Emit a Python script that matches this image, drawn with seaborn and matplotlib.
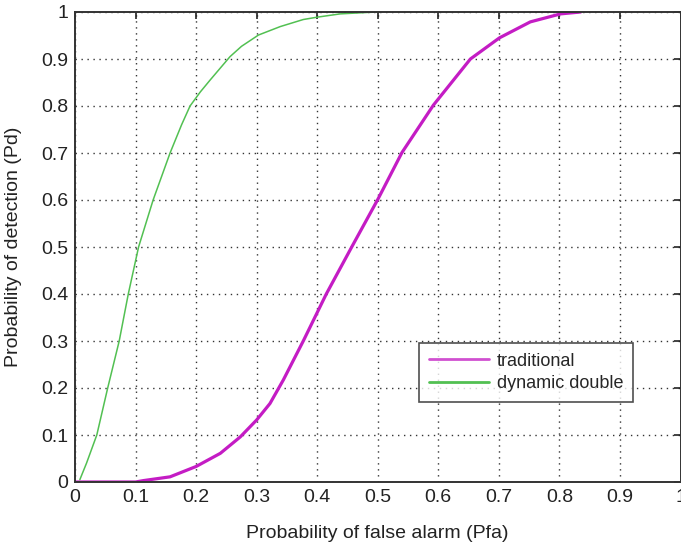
import matplotlib
matplotlib.use("Agg")
import matplotlib.pyplot as plt
import numpy as np
import pandas as pd
import seaborn as sns

# ROC curves: probability of detection vs probability of false alarm
trad_pfa = [0.0, 0.1, 0.113, 0.157, 0.2, 0.24, 0.273, 0.3, 0.322, 0.344, 0.377,
            0.415, 0.457, 0.5, 0.54, 0.592, 0.653, 0.701, 0.752, 0.802, 0.835]
trad_pd = [0.0, 0.0, 0.003, 0.011, 0.033, 0.061, 0.096, 0.132, 0.167, 0.217, 0.3,
           0.4, 0.5, 0.601, 0.701, 0.802, 0.9, 0.945, 0.979, 0.996, 1.0]

dyn_pfa = [0.008, 0.019, 0.036, 0.054, 0.073, 0.088, 0.105, 0.129, 0.157, 0.176,
           0.19, 0.207, 0.223, 0.256, 0.275, 0.303, 0.339, 0.377, 0.4, 0.438,
           0.482, 0.5]
dyn_pd = [0.005, 0.04, 0.1, 0.2, 0.3, 0.4, 0.5, 0.6, 0.7, 0.76,
          0.8, 0.83, 0.855, 0.905, 0.927, 0.951, 0.969, 0.984, 0.989, 0.996,
          0.999, 1.0]

series_names = ["traditional", "dynamic double"]
tick_vals = [0, 0.1, 0.2, 0.3, 0.4, 0.5, 0.6, 0.7, 0.8, 0.9, 1]
tick_labels = ["0", "0.1", "0.2", "0.3", "0.4", "0.5", "0.6", "0.7", "0.8", "0.9", "1"]

sns.set_style("white")
plt.rcParams["font.family"] = ["Liberation Sans", "DejaVu Sans"]

df = pd.concat([
    pd.DataFrame({"Pfa": trad_pfa, "Pd": trad_pd, "method": series_names[0]}),
    pd.DataFrame({"Pfa": dyn_pfa, "Pd": dyn_pd, "method": series_names[1]}),
])

fig = plt.figure(figsize=(6.81, 5.52), dpi=100)
ax = fig.add_axes([75 / 681, 70 / 552, 605.5 / 681, 470 / 552])

palette = {series_names[0]: "#c41cc4", series_names[1]: "#52c052"}
sizes = {series_names[0]: 2.3, series_names[1]: 1.1}
for name in series_names:
    sub = df[df["method"] == name]
    sns.lineplot(data=sub, x="Pfa", y="Pd", ax=ax, color=palette[name],
                 linewidth=sizes[name], sort=False, estimator=None, label=name)

ax.set_xlim(0, 1)
ax.set_ylim(0, 1)
ax.set_xticks(tick_vals)
ax.set_xticklabels(tick_labels)
ax.set_yticks(tick_vals)
ax.set_yticklabels(tick_labels)
ax.tick_params(direction="in", top=True, right=True, length=5, width=1.2,
               labelsize=14, colors="#222222", pad=5)
for side in ax.spines.values():
    side.set_color("#333333")
    side.set_linewidth(1.4)

ax.grid(True, color="#333333", linestyle=(0, (1.0, 3.3)), linewidth=1.0)
ax.set_axisbelow(True)

ax.set_xlabel("Probability of false alarm (Pfa)", fontsize=14, color="#222222")
ax.set_ylabel("Probability of detection (Pd)", fontsize=14, color="#222222")
ax.xaxis.set_label_coords(0.5, -(525 - 482) / 470, transform=ax.transAxes)
ax.xaxis.label.set_va("top")
ax.yaxis.set_label_coords(-(75 - 5) / 605.5, 0.5, transform=ax.transAxes)
ax.yaxis.label.set_va("top")

leg = ax.legend(loc="lower left", bbox_to_anchor=((419 - 75) / 605.5, (482 - 402) / 470),
                borderaxespad=0, fontsize=13, frameon=True, fancybox=False,
                handlelength=3.3, borderpad=0.55, labelspacing=0.3,
                handletextpad=0.45)
leg.get_frame().set_edgecolor("#222222")
leg.get_frame().set_linewidth(1.2)
for line in leg.get_lines():
    line.set_linewidth(2.0)
leg.get_lines()[0].set_color("#d050d0")
leg.get_lines()[1].set_color("#52c052")

fig.savefig("out.png", dpi=100)
